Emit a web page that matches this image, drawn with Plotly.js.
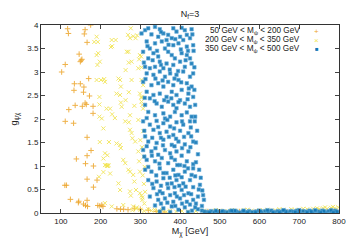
<!DOCTYPE html>
<html><head><meta charset="utf-8">
<script src="https://cdn.plot.ly/plotly-3.0.1.min.js"></script>
<style>html,body{margin:0;padding:0;background:#fff}#c{width:354px;height:248px}</style>
</head><body><div id="c"></div>
<script>
// 50 GeV < M_psi < 200 GeV (orange +)
const orangeX = [117,119,161,159,166,146,151,149,153,111,102,170,134,149,158,133,157,172,161,164,136,154,181,120,181,175,
  111,132,166,176,139,166,162,182,166,191,182,110,114,124,145,144,166,157,162,167,193,198,203,206,241,250,258,269,
  285,300,320,340,360,470,510,550,590,630,670,710,750,780,795];
const orangeY = [3.92,3.82,3.90,3.81,3.63,3.38,3.25,3.22,3.27,3.16,3.00,2.86,2.75,2.75,2.68,2.61,2.57,2.49,2.34,2.31,2.29,2.27,2.27,2.20,2.12,4.00,
  1.95,1.91,1.61,1.33,1.15,1.22,1.05,1.00,0.72,0.70,0.55,0.59,0.59,0.29,0.25,0.22,0.27,0.19,0.16,0.14,0.16,0.15,0.17,0.14,0.09,0.08,0.08,0.07,
  0.10,0.08,0.06,0.03,0.02,0.03,0.02,0.03,0.02,0.03,0.02,0.03,0.04,0.05,0.04];

// 200 GeV < M_psi < 350 GeV (yellow x)
const yellowX = [276,269,274,282,288,292,228,238,226,229,266,270,302,297,278,271,295,263,245,249,278,303,211,251,240,249,271,299,303,263,251,253,285,224,303,307,229,236,274,
  295,262,271,274,278,280,287,221,240,249,251,295,297,215,220,257,262,270,274,282,299,285,289,299,303,305,245,249,274,276,211,228,257,282,291,
  190,184,193,194,190,198,192,201,190,209,197,197,197,203,215,207,198,211,217,207,211,216,219,207,224,196,
  299,303,307,303,305,307,300,304,308,311,306,309,312,305,310,
  280,290,300,310,320,328,336,345,355,365,375,390,405,420,440,460,480,490,500,520,530,540,560,570,580,600,610,620,640,650,660,680,690,700,710,720,735,745,750,760,765,770,780,785,790,798];
const yellowY = [3.93,3.79,3.72,3.76,3.72,3.78,3.68,3.68,3.53,3.55,3.43,3.43,3.33,3.27,3.22,3.20,3.08,3.04,2.86,2.83,2.83,2.83,2.79,2.69,2.54,2.51,2.57,2.54,2.47,2.40,2.35,2.26,2.28,2.22,2.37,2.22,2.10,2.02,2.08,
  1.98,1.95,1.93,1.77,1.70,1.59,1.52,1.51,1.48,1.45,1.38,1.31,1.10,1.02,1.02,1.13,1.06,0.92,0.88,0.81,0.88,0.67,0.49,0.42,0.37,0.28,0.63,0.49,0.46,0.37,0.21,0.14,0.17,0.14,0.12,
  3.75,3.64,3.64,3.40,3.36,3.22,3.15,2.83,2.83,2.85,2.47,2.31,2.05,2.01,2.22,1.80,1.51,1.27,1.23,1.16,1.02,1.00,1.00,0.87,0.84,0.77,
  3.36,3.10,2.72,2.45,2.30,1.74,1.55,1.40,1.20,0.98,0.80,0.62,0.45,0.33,0.20,
  0.06,0.09,0.07,0.04,0.08,0.05,0.07,0.04,0.06,0.03,0.05,0.03,0.04,0.03,0.04,0.05,0.04,0.06,0.05,0.04,0.06,0.05,0.06,0.07,0.05,0.06,0.05,0.07,0.06,0.08,0.07,0.08,0.06,0.07,0.09,0.08,0.09,0.10,0.08,0.10,0.12,0.09,0.11,0.13,0.10,0.12];

// 350 GeV < M_psi < 500 GeV (blue squares)
const blueX = [312,320,337,349,383,404,412,429,303,328,345,358,370,379,391,400,417,425,316,337,354,366,383,396,408,417,433,324,362,
  307,333,345,370,379,387,404,417,425,320,312,324,337,349,366,383,400,412,429,358,316,333,349,362,375,391,408,425,433,
  307,328,345,358,370,383,396,417,429,316,333,349,366,379,391,404,421,433,324,312,341,354,370,383,400,412,425,391,
  320,337,358,375,387,404,417,429,362,
  307,324,341,358,375,391,408,425,333,349,366,383,400,421,312,320,341,358,379,396,412,433,307,328,345,362,375,391,404,421,
  316,337,354,370,387,400,417,433,312,328,349,366,383,396,412,429,320,341,358,379,391,408,425,333,349,370,387,404,421,
  324,345,362,383,400,417,433,337,358,379,396,412,349,375,
  318,342,352,371,388,402,420,431,309,331,352,374,395,414,436,313,338,356,386,403,422,311,336,360,378,396,419,438,
  316,345,368,385,405,427,310,330,352,372,390,410,428,316,338,357,386,405,426,445,310,329,348,378,393,411,440,
  320,340,358,374,388,404,420,438,448,330,352,368,386,398,414,433,450,456,342,356,375,392,410,428,445,460,
  352,368,388,405,425,440,455,440,437,436,434,438,443,452,458,447,433,445,455,438,430,420,
  462,470,478,486,494,502,510,518,526,534,542,550,558,566,574,582,590,598,606,614,622,630,638,646,654,662,670,678,686,694,
  702,710,718,726,734,742,750,758,766,774,782,790,798,474,506,538,570,602,634,666,698,730,762,794,620,660,700,740,780,
  490,530,560,590,650,690,720,754,786];
const blueY = [3.89,3.93,3.96,3.91,3.93,3.94,3.89,3.91,3.82,3.80,3.75,3.82,3.79,3.72,3.86,3.75,3.79,3.72,3.65,3.61,3.65,3.68,3.57,3.61,3.68,3.54,3.57,3.50,3.50,
  3.43,3.40,3.33,3.43,3.36,3.29,3.40,3.36,3.29,3.29,3.11,3.08,3.11,3.22,3.18,3.15,3.22,3.11,3.18,3.08,2.97,2.94,3.01,2.90,2.97,2.94,3.01,2.90,2.97,
  2.79,2.72,2.76,2.69,2.79,2.72,2.83,2.76,2.69,2.58,2.51,2.54,2.47,2.58,2.51,2.62,2.54,2.47,2.44,2.30,2.33,2.26,2.37,2.30,2.40,2.33,2.26,2.23,
  2.15,2.08,2.12,2.05,2.15,2.08,2.14,2.05,2.01,
  1.95,1.88,1.96,1.91,1.84,1.93,1.88,1.95,1.77,1.70,1.73,1.66,1.75,1.70,1.63,1.52,1.49,1.56,1.45,1.52,1.46,1.52,1.34,1.31,1.24,1.34,1.27,1.31,1.22,1.31,
  1.13,1.10,1.17,1.06,1.13,1.02,1.10,1.04,0.92,0.88,0.95,0.85,0.92,0.81,0.88,0.81,0.70,0.67,0.74,0.63,0.70,0.63,0.70,0.53,0.46,0.53,0.42,0.49,0.42,
  0.35,0.28,0.31,0.24,0.31,0.24,0.28,0.16,0.10,0.14,0.07,0.12,0.03,0.02,
  3.55,3.45,3.85,3.58,3.70,3.48,3.45,3.80,3.20,3.25,3.15,3.05,3.02,3.25,3.10,2.85,2.86,2.82,2.86,2.78,2.65,2.45,2.38,2.40,2.44,2.36,2.42,2.30,
  2.02,1.83,1.98,1.80,1.95,1.82,1.75,1.60,1.60,1.62,1.58,1.62,1.63,1.42,1.38,1.44,1.42,1.38,1.40,1.25,1.20,1.22,1.05,1.18,1.02,1.00,1.08,
  0.98,0.80,0.85,0.75,0.80,0.76,0.95,0.78,0.92,0.62,0.58,0.62,0.55,0.58,0.56,0.55,0.60,0.48,0.40,0.42,0.38,0.35,0.38,0.40,0.35,0.28,
  0.20,0.22,0.15,0.20,0.18,0.20,0.15,1.50,1.95,2.62,3.45,2.05,1.75,0.75,0.38,0.50,0.95,0.08,0.05,0.12,0.05,0.02,
  0.03,0.02,0.04,0.02,0.03,0.01,0.03,0.02,0.04,0.02,0.03,0.01,0.03,0.02,0.04,0.02,0.03,0.05,0.02,0.04,0.03,0.05,0.02,0.04,0.03,0.05,0.02,0.04,0.03,0.05,
  0.02,0.04,0.03,0.05,0.02,0.04,0.03,0.05,0.02,0.04,0.03,0.05,0.02,0.01,0.04,0.05,0.01,0.04,0.01,0.03,0.01,0.03,0.04,0.03,0.06,0.06,0.06,0.06,0.06,
  0.05,0.05,0.05,0.01,0.01,0.02,0.01,0.01,0.01];

const legendLabels = ['50 GeV < M<sub>ψ</sub> < 200 GeV','200 GeV < M<sub>ψ</sub> < 350 GeV','350 GeV < M<sub>ψ</sub> < 500 GeV'];
const xTicks = [100,200,300,400,500,600,700,800];

const FONT = 'Liberation Sans, Arial, sans-serif';
const cOrange = '#eda52a', cYellow = '#f2e44e', cBlue = '#1277b5';

const traces = [
  {x: orangeX, y: orangeY, type:'scatter', mode:'markers', name: legendLabels[0],
   marker:{symbol:'cross-thin', size:4, color:cOrange, opacity:0.85, line:{color:cOrange, width:1}}},
  {x: yellowX, y: yellowY, type:'scatter', mode:'markers', name: legendLabels[1],
   marker:{symbol:'x-thin', size:4, color:cYellow, opacity:0.85, line:{color:cYellow, width:1}}},
  {x: blueX, y: blueY, type:'scatter', mode:'markers', name: legendLabels[2],
   marker:{symbol:'square', size:3.5, color:cBlue, opacity:0.9, line:{color:'#5aa6d8', width:0.6}}}
];

const legX = 0.872, symX = 0.925, rows = [0.970, 0.921, 0.872];
const symbols = [['+',cOrange],['×',cYellow],['■',cBlue]];
const annotations = [];
legendLabels.forEach((t,i)=>{
  annotations.push({xref:'paper', yref:'paper', x:legX, y:rows[i], xanchor:'right', yanchor:'middle',
    text:t, showarrow:false, height:8.2, borderpad:0, valign:'middle',
    font:{family:FONT, size:8.2, color:'#222'}});
  annotations.push({xref:'paper', yref:'paper', x:symX, y:rows[i], xanchor:'center', yanchor:'middle',
    text:symbols[i][0], showarrow:false, height:8, borderpad:0,
    font:{family:FONT, size: i===2?6:8, color:symbols[i][1]}});
});

const layout = {
  width:354, height:248,
  margin:{l:41, r:15, t:25, b:35},
  paper_bgcolor:'#fff', plot_bgcolor:'#fff',
  showlegend:false,
  font:{family:FONT, size:8, color:'#222'},
  title:{text:'N<sub>f</sub>=3', x:0.5, xref:'paper', y:0.945, yref:'container', yanchor:'middle',
    font:{family:FONT, size:9, color:'#222'}},
  xaxis:{range:[50,800], tickvals:xTicks, ticks:'inside', ticklen:4, tickcolor:'#444', mirror:'allticks',
    showline:true, linecolor:'#333', linewidth:1, showgrid:false, zeroline:false,
    tickfont:{family:FONT, size:8, color:'#222'},
    title:{text:'M<sub>χ</sub> [GeV]', standoff:3, font:{family:FONT, size:9, color:'#222'}}},
  yaxis:{range:[0,4], dtick:0.5, tick0:0, ticks:'inside', ticklen:4, tickcolor:'#444', mirror:'allticks',
    showline:true, linecolor:'#333', linewidth:1, showgrid:false, zeroline:false,
    tickfont:{family:FONT, size:8, color:'#222'},
    title:{text:'g<sub>ψχ</sub>', standoff:8, font:{family:FONT, size:9, color:'#222'}}},
  annotations: annotations
};

Plotly.newPlot('c', traces, layout, {staticPlot:true, displayModeBar:false});
</script></body></html>
